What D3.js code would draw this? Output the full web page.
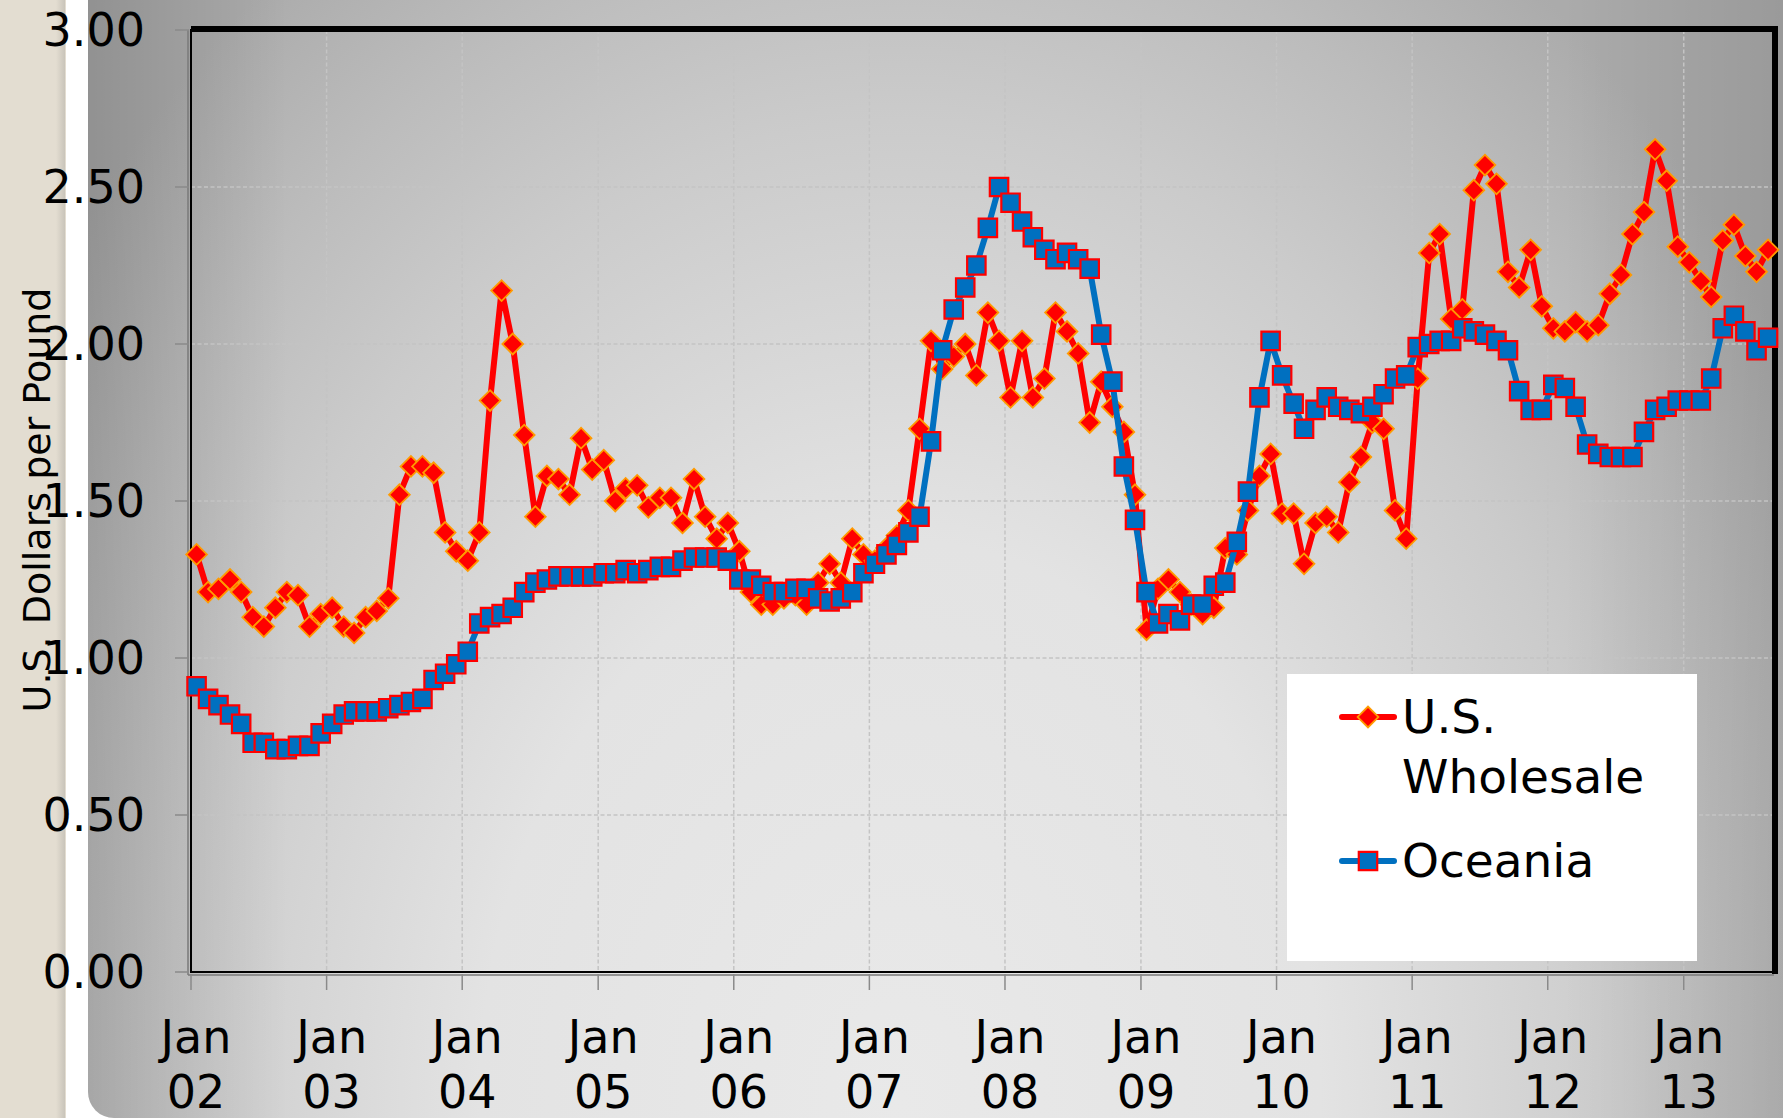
<!DOCTYPE html>
<html>
<head>
<meta charset="utf-8">
<script src="https://cdn.jsdelivr.net/npm/d3@7"></script>
<style>
	html, body { margin:0 ; padding:0 ; background:#ffffff ; }
	svg { display:block ; font-family:"DejaVu Sans", Verdana, sans-serif ; }
</style>
</head>
<body>
<svg id="chart" width="1783" height="1118"></svg>
<script>

// monthly prices Jan 2002 .. Aug 2013 (U.S. dollars per pound)
const firstYear = 2002 ;

const usWholesale = [
	1.33, 1.21, 1.22, 1.25, 1.21, 1.13, 1.10, 1.16, 1.21, 1.20, 1.10, 1.14,
	1.16, 1.10, 1.08, 1.13, 1.15, 1.19, 1.52, 1.61, 1.61, 1.59, 1.40, 1.34,
	1.31, 1.40, 1.82, 2.17, 2.00, 1.71, 1.45, 1.58, 1.57, 1.52, 1.70, 1.60,
	1.63, 1.50, 1.54, 1.55, 1.48, 1.51, 1.51, 1.43, 1.57, 1.45, 1.38, 1.43,
	1.34, 1.21, 1.17, 1.17, 1.19, 1.20, 1.17, 1.24, 1.30, 1.24, 1.38, 1.33,
	1.31, 1.35, 1.39, 1.47, 1.73, 2.01, 1.92, 1.96, 2.00, 1.90, 2.10, 2.01,
	1.83, 2.01, 1.83, 1.89, 2.10, 2.04, 1.97, 1.75, 1.88, 1.80, 1.72, 1.52,
	1.09, 1.22, 1.25, 1.21, 1.17, 1.14, 1.16, 1.35, 1.33, 1.47, 1.58, 1.65,
	1.46, 1.46, 1.30, 1.43, 1.45, 1.40, 1.56, 1.64, 1.75, 1.73, 1.47, 1.38,
	1.89, 2.29, 2.35, 2.08, 2.11, 2.49, 2.57, 2.51, 2.23, 2.18, 2.30, 2.12,
	2.05, 2.04, 2.07, 2.04, 2.06, 2.16, 2.22, 2.35, 2.42, 2.62, 2.52, 2.31,
	2.26, 2.20, 2.15, 2.33, 2.38, 2.28, 2.23, 2.30
] ;

const oceania = [
	0.91, 0.87, 0.85, 0.82, 0.79, 0.73, 0.73, 0.71, 0.71, 0.72, 0.72, 0.76,
	0.79, 0.82, 0.83, 0.83, 0.83, 0.84, 0.85, 0.86, 0.87, 0.93, 0.95, 0.98,
	1.02, 1.11, 1.13, 1.14, 1.16, 1.21, 1.24, 1.25, 1.26, 1.26, 1.26, 1.26,
	1.27, 1.27, 1.28, 1.27, 1.28, 1.29, 1.29, 1.31, 1.32, 1.32, 1.32, 1.31,
	1.25, 1.25, 1.23, 1.21, 1.21, 1.22, 1.22, 1.19, 1.18, 1.19, 1.21, 1.27,
	1.30, 1.33, 1.36, 1.40, 1.45, 1.69, 1.98, 2.11, 2.18, 2.25, 2.37, 2.50,
	2.45, 2.39, 2.34, 2.30, 2.27, 2.29, 2.27, 2.24, 2.03, 1.88, 1.61, 1.44,
	1.21, 1.11, 1.14, 1.12, 1.17, 1.17, 1.23, 1.24, 1.37, 1.53, 1.83, 2.01,
	1.90, 1.81, 1.73, 1.79, 1.83, 1.80, 1.79, 1.78, 1.80, 1.84, 1.89, 1.90,
	1.99, 2.00, 2.01, 2.01, 2.05, 2.04, 2.03, 2.01, 1.98, 1.85, 1.79, 1.79,
	1.87, 1.86, 1.80, 1.68, 1.65, 1.64, 1.64, 1.64, 1.72, 1.79, 1.80, 1.82,
	1.82, 1.82, 1.89, 2.05, 2.09, 2.04, 1.98, 2.02
] ;

const yearLabels = [ "02", "03", "04", "05", "06", "07", "08", "09", "10", "11", "12", "13" ] ;
const yTicks = [ 0, 0.5, 1.0, 1.5, 2.0, 2.5, 3.0 ] ;
const legendLabels = [ [ "U.S.", "Wholesale" ], [ "Oceania" ] ] ;
const axisTitle = "U.S. Dollars per Pound" ;


const svg = d3.select( "#chart" ) ;
const W = 1783, H = 1118 ;
const plot = { left:191, right:1774, top:30, bottom:972 } ;

const x = d3.scaleTime()
	.domain( [ new Date( firstYear, 0, 1 ), new Date( firstYear + 11, 8, 1 ) ] )
	.range( [ plot.left, plot.right ] ) ;

const y = d3.scaleLinear()
	.domain( [ 0, 3 ] )
	.range( [ plot.bottom, plot.top ] ) ;

// points sit in the middle of their month
function monthDate( i ) { return new Date( firstYear, i, 16 ) ; }
function janX( i ) { return x( new Date( firstYear + i, 0, 1 ) ) ; }

/*
	background : beige strip, white strip, big grey panel
*/
const defs = svg.append( "defs" ) ;

function addStops( grad, stops ) {
	stops.forEach( function(s) {
		grad.append( "stop" )
			.attr( "offset", s[0] )
			.attr( "stop-color", s[1] )
			.attr( "stop-opacity", s.length > 2 ? s[2] : 1 ) ;
	}) ;
}

const panelGrad = defs.append( "radialGradient" )
	.attr( "id", "panelGrad" )
	.attr( "gradientUnits", "userSpaceOnUse" )
	.attr( "cx", 900 ).attr( "cy", 1100 ).attr( "r", 1050 )
	.attr( "gradientTransform", "translate(900,1100) scale(1,1.333) translate(-900,-1100)" ) ;
addStops( panelGrad, [ [ 0, "#e9e9e9" ], [ 0.4, "#e3e3e3" ], [ 0.7, "#cbcbcb" ], [ 0.85, "#bcbcbc" ], [ 1, "#ababab" ] ] ) ;

const leftShade = defs.append( "linearGradient" ).attr( "id", "leftShade" ) ;
addStops( leftShade, [ [ 0, "#000", 0.15 ], [ 1, "#000", 0 ] ] ) ;
const rightShade = defs.append( "linearGradient" ).attr( "id", "rightShade" ) ;
addStops( rightShade, [ [ 0, "#000", 0 ], [ 1, "#000", 0.1 ] ] ) ;

const edgeGrad = defs.append( "linearGradient" ).attr( "id", "edgeGrad" ) ;
addStops( edgeGrad, [ [ 0, "#e3ddd1" ], [ 1, "#c9c4ba" ] ] ) ;

svg.append( "rect" )
	.attr( "x", 0 ).attr( "y", 0 ).attr( "width", 66 ).attr( "height", H )
	.attr( "fill", "#e3ddd1" ) ;
svg.append( "rect" )
	.attr( "x", 56 ).attr( "y", 0 ).attr( "width", 9 ).attr( "height", H )
	.attr( "fill", "url(#edgeGrad)" ) ;

const px = 88, rad = 26 ;
const panelPath = "M" + px + ",0 H" + W + " V" + H + " H" + (px + rad) +
		" A" + rad + "," + rad + " 0 0 1 " + px + "," + (H - rad) + " Z" ;
svg.append( "path" ).attr( "d", panelPath ).attr( "fill", "url(#panelGrad)" ) ;

defs.append( "clipPath" ).attr( "id", "panelClip" ).append( "path" ).attr( "d", panelPath ) ;
svg.append( "rect" )
	.attr( "clip-path", "url(#panelClip)" )
	.attr( "x", px ).attr( "y", 0 ).attr( "width", 200 ).attr( "height", H )
	.attr( "fill", "url(#leftShade)" ) ;
svg.append( "rect" )
	.attr( "x", W - 220 ).attr( "y", 0 ).attr( "width", 220 ).attr( "height", H )
	.attr( "fill", "url(#rightShade)" ) ;

/*
	grid
*/
const grid = svg.append( "g" ).attr( "class", "grid" ) ;

grid.selectAll( "line.h" )
	.data( yTicks.filter( function(d) { return d > 0 && d < 3 ; } ) )
	.enter().append( "line" )
		.attr( "class", "h" )
		.attr( "x1", plot.left ).attr( "x2", plot.right )
		.attr( "y1", function(d) { return y(d) ; } )
		.attr( "y2", function(d) { return y(d) ; } )
	;

grid.selectAll( "line.v" )
	.data( yearLabels.slice( 1 ) )
	.enter().append( "line" )
		.attr( "class", "v" )
		.attr( "y1", plot.top ).attr( "y2", plot.bottom )
		.attr( "x1", function(d, i) { return janX( i + 1 ) ; } )
		.attr( "x2", function(d, i) { return janX( i + 1 ) ; } )
	;

grid.selectAll( "line" )
	.attr( "stroke", "#c4c4c4" )
	.attr( "stroke-width", 1.5 )
	.attr( "stroke-dasharray", "4,2.5" ) ;

/*
	plot border, heavy on top and right
*/
const frame = svg.append( "g" ).attr( "class", "frame" ) ;
frame.append( "line" )
	.attr( "x1", plot.left - 3 ).attr( "x2", plot.left - 3 )
	.attr( "y1", plot.top ).attr( "y2", plot.bottom + 3 )
	.attr( "stroke", "#7a7a7a" ).attr( "stroke-width", 1.5 ) ;
frame.append( "line" )
	.attr( "x1", plot.left - 3 ).attr( "x2", plot.right )
	.attr( "y1", plot.bottom + 3 ).attr( "y2", plot.bottom + 3 )
	.attr( "stroke", "#7a7a7a" ).attr( "stroke-width", 1.5 ) ;
frame.append( "rect" )
	.attr( "x", plot.left ).attr( "y", plot.top )
	.attr( "width", plot.right - plot.left ).attr( "height", plot.bottom - plot.top )
	.attr( "fill", "none" ).attr( "stroke", "#000" ).attr( "stroke-width", 2 ) ;
frame.append( "path" )
	.attr( "d", "M" + plot.left + "," + (plot.top - 1) + " H" + (plot.right + 1) + " V" + (plot.bottom + 2) )
	.attr( "fill", "none" ).attr( "stroke", "#000" ).attr( "stroke-width", 6 ) ;

// tick marks
frame.selectAll( "line.ytick" )
	.data( yTicks )
	.enter().append( "line" )
		.attr( "class", "ytick" )
		.attr( "x1", plot.left - 16 ).attr( "x2", plot.left - 2 )
		.attr( "y1", function(d) { return y(d) ; } )
		.attr( "y2", function(d) { return y(d) ; } )
		.attr( "stroke", "#8a8a8a" ).attr( "stroke-width", 1.5 )
	;
frame.selectAll( "line.xtick" )
	.data( yearLabels )
	.enter().append( "line" )
		.attr( "class", "xtick" )
		.attr( "y1", plot.bottom + 2 ).attr( "y2", plot.bottom + 18 )
		.attr( "x1", function(d, i) { return janX( i ) ; } )
		.attr( "x2", function(d, i) { return janX( i ) ; } )
		.attr( "stroke", "#8a8a8a" ).attr( "stroke-width", 1.5 )
	;

/*
	series : line first, markers on top, U.S. then Oceania
*/
const diamond = d3.symbol().type( d3.symbolSquare ).size( 215 ) ;
const square = d3.symbol().type( d3.symbolSquare ).size( 340 ) ;

const series = [
	{ values:usWholesale, color:"#ff0000", fill:"#ff0000", edge:"#ff9a00", edgeW:1.8, shape:diamond, rot:45 },
	{ values:oceania, color:"#0070c0", fill:"#0070c0", edge:"#ff0000", edgeW:2.2, shape:square, rot:0 }
] ;

const line = d3.line()
	.x( function(d, i) { return x( monthDate( i ) ) ; } )
	.y( function(d) { return y( d ) ; } ) ;

series.forEach( function(s) {
	const g = svg.append( "g" ) ;
	g.append( "path" )
		.attr( "d", line( s.values ) )
		.attr( "fill", "none" )
		.attr( "stroke", s.color )
		.attr( "stroke-width", 6 )
		.attr( "stroke-linejoin", "round" )
		.attr( "stroke-linecap", "round" ) ;
	g.selectAll( "path.mark" )
		.data( s.values )
		.enter().append( "path" )
			.attr( "class", "mark" )
			.attr( "d", s.shape )
			.attr( "transform", function(d, i) {
				return "translate(" + x( monthDate( i ) ) + "," + y( d ) + ") rotate(" + s.rot + ")" ;
			})
			.attr( "fill", s.fill )
			.attr( "stroke", s.edge )
			.attr( "stroke-width", s.edgeW )
		;
}) ;

/*
	axis labels
*/
svg.append( "g" )
	.selectAll( "text" )
	.data( yTicks )
	.enter().append( "text" )
		.attr( "x", 145 )
		.attr( "y", function(d) { return y(d) + 16 ; } )
		.attr( "text-anchor", "end" )
		.style( "font-size", "46px" )
		.attr( "fill", "#000" )
		.text( function(d) { return d3.format( ".2f" )( d ) ; } )
	;

const xl = svg.append( "g" )
	.selectAll( "text" )
	.data( yearLabels )
	.enter().append( "text" )
		.attr( "text-anchor", "middle" )
		.style( "font-size", "46px" )
		.attr( "fill", "#000" ) ;
xl.append( "tspan" )
	.attr( "x", function(d, i) { return janX( i ) + 5 ; } )
	.attr( "y", 1053 )
	.text( "Jan" ) ;
xl.append( "tspan" )
	.attr( "x", function(d, i) { return janX( i ) + 5 ; } )
	.attr( "y", 1108 )
	.text( function(d) { return d ; } ) ;

svg.append( "text" )
	.attr( "transform", "translate(50,500) rotate(-90)" )
	.attr( "text-anchor", "middle" )
	.style( "font-size", "38px" )
	.attr( "fill", "#000" )
	.text( axisTitle ) ;

/*
	legend
*/
const legend = svg.append( "g" ).attr( "class", "legend" ) ;
legend.append( "rect" )
	.attr( "x", 1287 ).attr( "y", 674 )
	.attr( "width", 410 ).attr( "height", 287 )
	.attr( "fill", "#ffffff" ) ;

const legendY = [ 717, 861 ] ;
series.forEach( function(s, k) {
	const ly = legendY[k] ;
	legend.append( "line" )
		.attr( "x1", 1342 ).attr( "x2", 1394 )
		.attr( "y1", ly ).attr( "y2", ly )
		.attr( "stroke", s.color ).attr( "stroke-width", 6 )
		.attr( "stroke-linecap", "round" ) ;
	legend.append( "path" )
		.attr( "d", s.shape )
		.attr( "transform", "translate(1368," + ly + ") rotate(" + s.rot + ")" )
		.attr( "fill", s.fill )
		.attr( "stroke", s.edge )
		.attr( "stroke-width", s.edgeW ) ;
	const t = legend.append( "text" )
		.style( "font-size", "47px" )
		.attr( "fill", "#000" ) ;
	legendLabels[k].forEach( function(txt, j) {
		t.append( "tspan" )
			.attr( "x", 1402 )
			.attr( "y", ly + 16 + j * 60 )
			.text( txt ) ;
	}) ;
}) ;

</script>
</body>
</html>
